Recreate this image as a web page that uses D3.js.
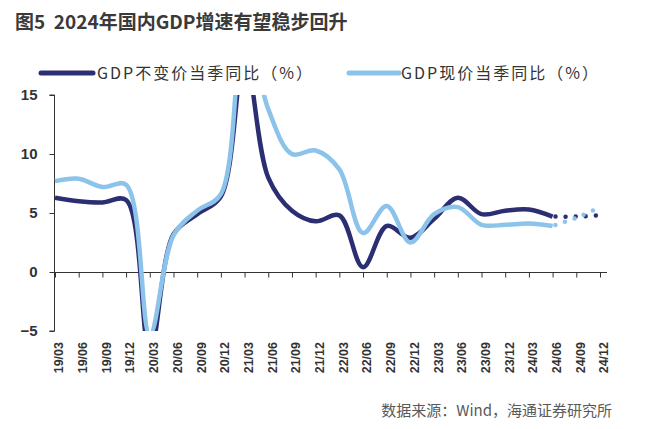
<!DOCTYPE html>
<html><head><meta charset="utf-8">
<script src="https://cdn.jsdelivr.net/npm/d3@7"></script>
<style>body{margin:0;background:#fff}svg{display:block}</style>
</head><body>
<svg id="c" width="645" height="429"></svg>
<script>
const categories = ["19/03","19/06","19/09","19/12","20/03","20/06","20/09","20/12","21/03","21/06","21/09","21/12","22/03","22/06","22/09","22/12","23/03","23/06","23/09","23/12","24/03","24/06","24/09","24/12"];
const actualCategories = categories.slice(0, 22);
const forecastCategories = ["24/06","24/09","24/12"];
const realGrowth = [6.3,6.0,5.9,6.1,-6.8,3.2,4.9,6.4,18.3,8.0,5.2,4.3,4.8,0.4,3.9,2.9,4.5,6.3,4.9,5.2,5.3,4.7];
const nominalGrowth = [7.7,7.9,7.2,7.4,-5.3,3.1,5.2,6.6,21.2,13.8,10.0,10.3,8.7,3.3,5.6,2.5,4.9,5.5,4.0,4.0,4.1,3.9];
const realForecast = [4.7,4.7,4.8];
const nominalForecast = [3.9,4.6,5.5];
const yTicks = [-5,0,5,10,15];
const seriesNames = ["GDP不变价当季同比（%）","GDP现价当季同比（%）"];
const colors = ["#2c2e72","#8cc3ea"];

const svg = d3.select("#c");
const x = d3.scalePoint().domain(categories).range([55, 600]);
const y = d3.scaleLinear().domain([-5, 15]).range([331, 95]);

// title
svg.append("text").attr("x", 15).attr("y", 29).attr("xml:space", "preserve").style("white-space", "pre")
  .attr("font-family", "'Noto Sans CJK SC','Noto Sans',sans-serif")
  .attr("font-weight", "bold").attr("font-size", 19).attr("fill", "#3a3a3a")
  .text("图5  2024年国内GDP增速有望稳步回升");

// legend
const legend = [
  {x0: 41, x1: 93, tx: 97},
  {x0: 349, x1: 399, tx: 401}
];
legend.forEach((l, i) => {
  svg.append("line").attr("x1", l.x0).attr("x2", l.x1).attr("y1", 73).attr("y2", 73)
    .attr("stroke", colors[i]).attr("stroke-width", 5).attr("stroke-linecap", "round");
  svg.append("text").attr("x", l.tx).attr("y", 73).attr("dy", "0.36em")
    .attr("font-family", "'Noto Sans CJK SC',sans-serif").attr("font-size", 16)
    .attr("letter-spacing", 2).attr("fill", "#333")
    .text(seriesNames[i]);
});

// clip
svg.append("defs").append("clipPath").attr("id", "clip")
  .append("rect").attr("x", 40).attr("y", y(15)).attr("width", 590).attr("height", y(-5) - y(15));

// y axis
const yAxis = d3.axisLeft(y).tickValues(yTicks).tickSize(5).tickFormat(d3.format("d"));
const ya = svg.append("g").attr("transform", "translate(54.5,0)").call(yAxis);
ya.select(".domain").attr("stroke", "#333").attr("d", `M-5,${y(15)}H0V${y(-5)}H-5`);
ya.selectAll(".tick line").attr("stroke", "#333");
ya.selectAll(".tick text").attr("x", -17).attr("font-family", "'Liberation Sans',Arial,sans-serif")
  .attr("font-weight", "bold").attr("font-size", 15).attr("fill", "#333");

// x axis at zero
const xAxis = d3.axisBottom(x).tickSize(5).tickFormat("");
const xa = svg.append("g").attr("transform", `translate(0,${y(0) + 0.5})`).call(xAxis);
xa.select(".domain").attr("stroke", "#333").attr("d", "M54,0H607");
xa.selectAll(".tick line").attr("stroke", "#333");

// x labels
svg.append("g").selectAll("text").data(categories).join("text")
  .attr("transform", d => `translate(${x(d) + 4},342) rotate(-90)`)
  .attr("text-anchor", "end").attr("dy", "0.35em")
  .attr("font-family", "'Liberation Sans',Arial,sans-serif").attr("font-weight", "bold")
  .attr("font-size", 12.5).attr("fill", "#333").text(d => d);

// lines
const line = d3.line().x(d => x(d.c)).y(d => y(d.v)).curve(d3.curveCatmullRom.alpha(0.5));
const g = svg.append("g").attr("clip-path", "url(#clip)");
const series = [
  {vals: realGrowth, fc: realForecast},
  {vals: nominalGrowth, fc: nominalForecast}
];
series.forEach((s, i) => {
  const pts = actualCategories.map((c, j) => ({c, v: s.vals[j]}));
  g.append("path").attr("d", line(pts)).attr("fill", "none")
    .attr("stroke", colors[i]).attr("stroke-width", 4.5).attr("stroke-linejoin", "round");
});
series.forEach((s, i) => {
  const fpts = forecastCategories.map((c, j) => ({c, v: s.fc[j]}));
  g.append("path").attr("d", line(fpts)).attr("fill", "none")
    .attr("stroke", colors[i]).attr("stroke-width", 4.5).attr("stroke-linecap", "round")
    .attr("stroke-dasharray", "0 10").attr("stroke-dashoffset", -13);
});

// source
svg.append("text").attr("x", 612).attr("y", 416).attr("text-anchor", "end")
  .attr("font-family", "'Noto Sans CJK SC',sans-serif").attr("font-size", 15)
  .attr("fill", "#595959").text("数据来源：Wind，海通证券研究所");
</script>
</body></html>
